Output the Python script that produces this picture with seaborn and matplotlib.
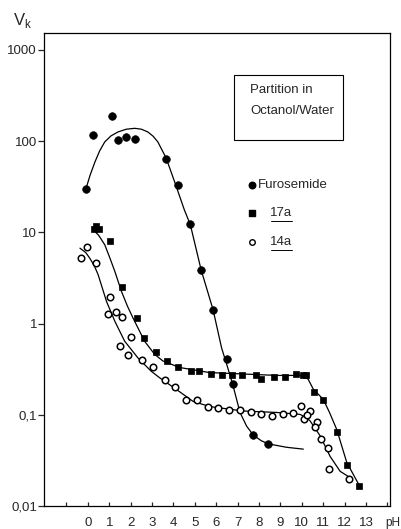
import matplotlib
matplotlib.use("Agg")
import matplotlib.pyplot as plt
from matplotlib.ticker import NullLocator, FixedLocator, FixedFormatter
import seaborn as sns

# Measured partition coefficients (octanol/water) vs pH
fur_ph = [-0.08, 0.22, 1.13, 1.40, 1.78, 2.20, 3.67, 4.23, 4.79, 5.30, 5.87, 6.48, 6.77, 7.71, 8.44]
fur_vk = [30, 117, 186, 104, 112, 106, 63, 33, 12.3, 3.9, 1.42, 0.41, 0.22, 0.060, 0.048]

a17_ph = [0.29, 0.36, 0.53, 1.03, 1.59, 2.28, 2.62, 3.17, 3.71, 4.22, 4.80, 5.19, 5.75, 6.25,
          6.72, 7.22, 7.86, 8.09, 8.70, 9.21, 9.71, 10.07, 10.20, 10.57, 11.01, 11.63, 12.13, 12.68]
a17_vk = [10.9, 11.7, 10.8, 8.1, 2.52, 1.16, 0.70, 0.49, 0.39, 0.33, 0.30, 0.30, 0.28, 0.27,
          0.27, 0.27, 0.275, 0.245, 0.26, 0.26, 0.28, 0.27, 0.27, 0.179, 0.145, 0.065, 0.028, 0.0166]

a14_ph = [-0.33, -0.03, 0.36, 1.03, 0.95, 1.30, 1.58, 2.01, 1.50, 1.86, 2.51, 3.05, 3.60, 4.07,
          4.58, 5.08, 5.60, 6.09, 6.61, 7.11, 7.61, 8.09, 8.62, 9.11, 9.60, 9.95, 10.12, 10.38,
          10.26, 10.73, 10.62, 10.90, 11.21, 11.27, 12.21]
a14_vk = [5.2, 6.9, 4.6, 1.97, 1.26, 1.35, 1.19, 0.72, 0.57, 0.45, 0.40, 0.33, 0.24, 0.20,
          0.145, 0.145, 0.121, 0.12, 0.113, 0.113, 0.106, 0.101, 0.097, 0.102, 0.104, 0.125, 0.089, 0.111,
          0.0995, 0.084, 0.074, 0.054, 0.043, 0.0257, 0.0198]

# Hand-drawn trend curves
fur_fit_ph = [-0.06, 0.10, 0.33, 0.55, 0.79, 1.08, 1.41, 1.80, 2.19, 2.50, 2.80, 3.05, 3.27, 3.66,
              4.05, 4.51, 4.79, 5.29, 5.85, 6.25, 6.50, 6.77, 7.11, 7.42, 7.73, 8.10, 8.43, 9.29, 10.07]
fur_fit_vk = [31.6, 42, 59, 78, 98, 114, 126, 135, 138, 135, 126, 113, 98, 65,
              36, 17.6, 12.1, 3.9, 1.42, 0.54, 0.35, 0.215, 0.106, 0.075, 0.060, 0.052, 0.048, 0.044, 0.042]

a17_fit_ph = [0.25, 0.50, 0.79, 1.02, 1.26, 1.57, 1.85, 2.11, 2.65, 3.12, 3.50, 4.28, 5.69, 7.25,
              8.83, 9.91, 10.15, 10.30, 10.54, 11.0, 11.30, 11.63, 12.10, 12.65]
a17_fit_vk = [10.6, 9.3, 7.3, 5.3, 3.73, 2.25, 1.55, 1.15, 0.64, 0.46, 0.39, 0.33, 0.29, 0.28,
              0.27, 0.27, 0.262, 0.244, 0.19, 0.148, 0.105, 0.069, 0.030, 0.0174]

a14_fit_ph = [-0.37, -0.10, 0.09, 0.30, 0.48, 0.87, 1.26, 1.72, 2.34, 2.96, 3.35, 4.13, 4.92, 5.70,
              7.26, 8.83, 9.91, 10.15, 10.38, 10.85, 11.32, 11.79, 12.18]
a14_fit_vk = [6.7, 6.0, 5.2, 4.3, 3.43, 1.75, 1.06, 0.64, 0.42, 0.30, 0.255, 0.19, 0.14, 0.123,
              0.110, 0.106, 0.101, 0.095, 0.086, 0.059, 0.035, 0.024, 0.021]

y_ticks = [0.01, 0.1, 1, 10, 100, 1000]
y_labels = ["0,01", "0,1", "1", "10", "100", "1000"]
x_labels = [str(i) for i in range(0, 14)]

sns.set_style("ticks")
plt.rcParams['font.family'] = ['Liberation Sans', 'DejaVu Sans']

fig = plt.figure(figsize=(4.01, 5.29), dpi=100)
ax = fig.add_axes([44 / 401, 23 / 529, 346 / 401, 473 / 529])

for xs, ys in [(fur_fit_ph, fur_fit_vk), (a17_fit_ph, a17_fit_vk), (a14_fit_ph, a14_fit_vk)]:
    sns.lineplot(x=xs, y=ys, ax=ax, color="black", lw=0.9, sort=False, estimator=None)

sns.scatterplot(x=fur_ph, y=fur_vk, ax=ax, marker="o", s=30, color="black", edgecolor="black", linewidth=0.5, zorder=3)
sns.scatterplot(x=a17_ph, y=a17_vk, ax=ax, marker="s", s=20, color="black", edgecolor="black", linewidth=0.5, zorder=3)
sns.scatterplot(x=a14_ph, y=a14_vk, ax=ax, marker="o", s=22, facecolor="white", edgecolor="black", linewidth=1.1, zorder=3)

ax.set_yscale("log")
ax.set_ylim(0.01, 1530)
ax.set_xlim(-2.05, 14.12)
ax.yaxis.set_major_locator(FixedLocator(y_ticks))
ax.yaxis.set_major_formatter(FixedFormatter(y_labels))
ax.yaxis.set_minor_locator(NullLocator())
ax.xaxis.set_major_locator(FixedLocator(list(range(-1, 15))))
ax.xaxis.set_major_formatter(FixedFormatter([""] + x_labels + [""]))
ax.xaxis.set_minor_locator(NullLocator())
ax.tick_params(axis="y", direction="out", length=4, width=0.9, labelsize=9.5, pad=1)
ax.tick_params(axis="x", direction="in", length=3, width=0.9, labelsize=9.5, pad=8)
for sp in ax.spines.values():
    sp.set_visible(True)
    sp.set_linewidth(0.9)
    sp.set_color("black")
ax.set_xlabel("")
ax.set_ylabel("")

fig.text(13 / 401, 1 - 20 / 529, r"V$_\mathregular{k}$", fontsize=12, va="center", ha="left")
fig.text(400 / 401, (529 - 523) / 529, "pH", fontsize=8.5, va="center", ha="right")

# Title box
def ax_x(px):
    return (px - 44) / 346

def ax_y(py):
    return (506 - py) / 473

box = plt.Rectangle((ax_x(234), ax_y(140)), ax_x(343) - ax_x(234), ax_y(75) - ax_y(140),
                    transform=ax.transAxes, fill=False, lw=0.8, edgecolor="black")
ax.add_patch(box)
ax.text(ax_x(250), ax_y(90), "Partition in", transform=ax.transAxes, fontsize=9.5, va="center", ha="left")
ax.text(ax_x(250), ax_y(111), "Octanol/Water", transform=ax.transAxes, fontsize=9.5, va="center", ha="left")

# Key
ax.scatter([ax_x(252)], [ax_y(185)], transform=ax.transAxes, marker="o", s=22, color="black", clip_on=False)
ax.text(ax_x(258), ax_y(185), "Furosemide", transform=ax.transAxes, fontsize=9.5, va="center", ha="left")
ax.scatter([ax_x(252)], [ax_y(213)], transform=ax.transAxes, marker="s", s=14, color="black", clip_on=False)
ax.text(ax_x(270), ax_y(213), "17a", transform=ax.transAxes, fontsize=9.5, va="center", ha="left")
ax.plot([ax_x(271), ax_x(292)], [ax_y(221), ax_y(221)], transform=ax.transAxes, color="black", lw=0.7)
ax.scatter([ax_x(252)], [ax_y(242)], transform=ax.transAxes, marker="o", s=16, facecolor="white",
           edgecolor="black", linewidth=1.0, clip_on=False)
ax.text(ax_x(270), ax_y(242), "14a", transform=ax.transAxes, fontsize=9.5, va="center", ha="left")
ax.plot([ax_x(271), ax_x(292)], [ax_y(250), ax_y(250)], transform=ax.transAxes, color="black", lw=0.7)

fig.savefig("out.png", dpi=100)
